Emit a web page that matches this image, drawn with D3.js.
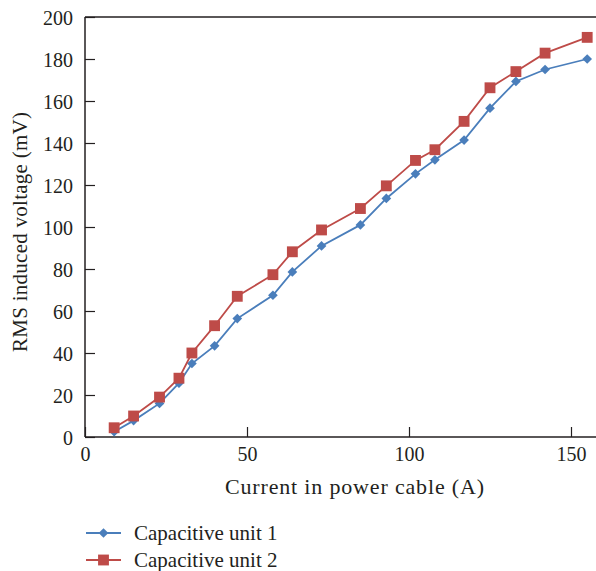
<!DOCTYPE html>
<html>
<head>
<meta charset="utf-8">
<script src="https://cdn.jsdelivr.net/npm/d3@7"></script>
<style>
  html, body { margin: 0; padding: 0; background: #fff; }
  svg { display: block; }
  text { font-family: "Liberation Serif", "Times New Roman", serif; fill: #231f20; }
</style>
</head>
<body>
<svg id="chart" width="596" height="571"></svg>
<script>
// Current in the power cable (A)
const current = [9, 15, 23, 29, 33, 40, 47, 58, 64, 73, 85, 93, 102, 108, 117, 125, 133, 142, 155];
// RMS induced voltage (mV) for each capacitive unit
const unit1 = [2.5, 7.8, 16, 25.6, 35, 43.4, 56.4, 67.5, 78.6, 91, 101, 113.6, 125.3, 132, 141.4, 156.6, 169.3, 175, 180];
const unit2 = [4.4, 10, 19, 28, 40, 53, 67, 77.3, 88.2, 98.6, 108.8, 119.6, 131.7, 136.8, 150.3, 166.3, 174, 182.8, 190.3];
const seriesNames = ["Capacitive unit 1", "Capacitive unit 2"];
const xTicks = [0, 50, 100, 150];
const yTicks = [0, 20, 40, 60, 80, 100, 120, 140, 160, 180, 200];

const svg = d3.select("#chart");
const plotLeft = 85, plotTop = 17, plotBottom = 437, plotRight = 596;

const x = d3.scaleLinear().domain([0, 150]).range([plotLeft, 571]);
const y = d3.scaleLinear().domain([0, 200]).range([plotBottom, plotTop]);

const axisColor = "#231f20";

// top frame line
svg.append("line")
  .attr("x1", plotLeft).attr("x2", plotRight).attr("y1", plotTop).attr("y2", plotTop)
  .attr("stroke", axisColor).attr("stroke-width", 1.5);

// y axis
const yAxis = svg.append("g").attr("transform", `translate(${plotLeft},0)`)
  .call(d3.axisRight(y).tickValues(yTicks).tickSize(10).tickFormat(d3.format("d")));
yAxis.select(".domain").remove();
yAxis.selectAll(".tick line").attr("stroke", axisColor).attr("stroke-width", 1.2);
yAxis.selectAll(".tick text")
  .attr("x", -12).attr("text-anchor", "end").attr("dy", "0.36em")
  .attr("fill", axisColor)
  .style("font-size", "20px").style("font-family", "\"Liberation Serif\", serif");
svg.append("line")
  .attr("x1", plotLeft).attr("x2", plotLeft).attr("y1", plotTop).attr("y2", plotBottom)
  .attr("stroke", axisColor).attr("stroke-width", 1.5);

// x axis
const xAxis = svg.append("g").attr("transform", `translate(0,${plotBottom})`)
  .call(d3.axisTop(x).tickValues(xTicks).tickSize(10).tickFormat(d3.format("d")));
xAxis.select(".domain").remove();
xAxis.selectAll(".tick line").attr("stroke", axisColor).attr("stroke-width", 1.2);
xAxis.selectAll(".tick text")
  .attr("y", 24).attr("dy", "0em")
  .attr("fill", axisColor)
  .style("font-size", "20px").style("font-family", "\"Liberation Serif\", serif");
svg.append("line")
  .attr("x1", plotLeft).attr("x2", plotRight).attr("y1", plotBottom).attr("y2", plotBottom)
  .attr("stroke", axisColor).attr("stroke-width", 1.5);

// axis titles
svg.append("text")
  .attr("x", 354.5).attr("y", 494)
  .attr("text-anchor", "middle").style("font-size", "22px")
  .attr("textLength", 259).attr("lengthAdjust", "spacing")
  .text("Current in power cable (A)");
svg.append("text")
  .attr("transform", `translate(27,232) rotate(-90)`)
  .attr("text-anchor", "middle").style("font-size", "21px")
  .attr("textLength", 240).attr("lengthAdjust", "spacing")
  .text("RMS induced voltage (mV)");

const blue = "#4a7ebb", red = "#be4b48";
const line = d3.line().x(d => x(d[0])).y(d => y(d[1]));
const diamond = d3.symbol().type(d3.symbolDiamond2).size(60);
const square = d3.symbol().type(d3.symbolSquare2).size(150);

const series = [
  { name: seriesNames[0], values: unit1, color: blue, symbol: diamond },
  { name: seriesNames[1], values: unit2, color: red, symbol: square }
];

series.forEach(s => {
  const pts = current.map((c, i) => [c, s.values[i]]);
  svg.append("path").datum(pts)
    .attr("d", line).attr("fill", "none")
    .attr("stroke", s.color).attr("stroke-width", 1.8);
  svg.append("g").selectAll("path").data(pts).join("path")
    .attr("transform", d => `translate(${x(d[0])},${y(d[1])})`)
    .attr("d", s.symbol).attr("fill", s.color).attr("stroke", "none");
});

// legend
const legend = svg.append("g");
series.forEach((s, i) => {
  const ly = 533 + i * 27;
  legend.append("line").attr("x1", 86).attr("x2", 121).attr("y1", ly).attr("y2", ly)
    .attr("stroke", s.color).attr("stroke-width", 1.8);
  legend.append("path").attr("transform", `translate(103.5,${ly})`)
    .attr("d", s.symbol).attr("fill", s.color);
  legend.append("text").attr("x", 134).attr("y", ly).attr("dy", "0.33em")
    .style("font-size", "21px").text(s.name);
});
</script>
</body>
</html>
